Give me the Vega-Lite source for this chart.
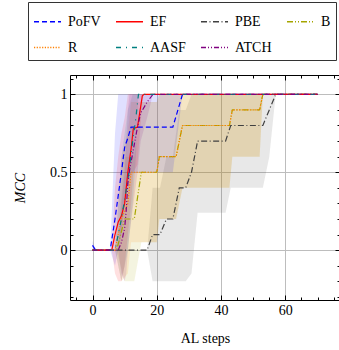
{
 "$schema": "https://vega.github.io/schema/vega-lite/v6.json",
 "width": 270, "height": 225,
 "autosize": {"type": "none"},
 "padding": {"left": 70, "top": 75, "right": 0, "bottom": 50},
 "config": {"font": "Liberation Serif", "view": {"stroke": null}},
 "data": {"values": [
  {"s":"PBE","x":0,"y":0,"lo":0,"hi":0},
  {"s":"PBE","x":17,"y":0,"lo":0,"hi":0},
  {"s":"PBE","x":18.7,"y":0.1,"lo":-0.2,"hi":0.4},
  {"s":"PBE","x":21,"y":0.1,"lo":-0.2,"hi":0.4},
  {"s":"PBE","x":23,"y":0.2,"lo":-0.2,"hi":0.6},
  {"s":"PBE","x":25,"y":0.2,"lo":-0.2,"hi":0.6},
  {"s":"PBE","x":27,"y":0.4,"lo":-0.2,"hi":0.9},
  {"s":"PBE","x":29,"y":0.4,"lo":-0.2,"hi":0.9},
  {"s":"PBE","x":30.8,"y":0.5,"lo":-0.15,"hi":1},
  {"s":"PBE","x":32.7,"y":0.7,"lo":0.24,"hi":1},
  {"s":"PBE","x":41.4,"y":0.7,"lo":0.24,"hi":1},
  {"s":"PBE","x":43,"y":0.8,"lo":0.4,"hi":1},
  {"s":"PBE","x":53,"y":0.8,"lo":0.4,"hi":1},
  {"s":"PBE","x":55,"y":0.9,"lo":0.6,"hi":1},
  {"s":"PBE","x":57,"y":1,"lo":1,"hi":1},
  {"s":"PBE","x":70,"y":1,"lo":1,"hi":1},

  {"s":"B","x":0,"y":0,"lo":0,"hi":0},
  {"s":"B","x":7.5,"y":0,"lo":0,"hi":0},
  {"s":"B","x":10,"y":0.2,"lo":-0.2,"hi":0.6},
  {"s":"B","x":13,"y":0.2,"lo":-0.2,"hi":0.6},
  {"s":"B","x":15.2,"y":0.5,"lo":0.05,"hi":0.95},
  {"s":"B","x":20,"y":0.5,"lo":0.05,"hi":0.95},
  {"s":"B","x":20.8,"y":0.6,"lo":0.2,"hi":1},
  {"s":"B","x":26,"y":0.6,"lo":0.2,"hi":1},
  {"s":"B","x":28,"y":0.8,"lo":0.4,"hi":1},
  {"s":"B","x":42.6,"y":0.8,"lo":0.4,"hi":1},
  {"s":"B","x":43.5,"y":0.9,"lo":0.6,"hi":1},
  {"s":"B","x":52,"y":0.9,"lo":0.6,"hi":1},
  {"s":"B","x":53,"y":1,"lo":1,"hi":1},
  {"s":"B","x":70,"y":1,"lo":1,"hi":1},

  {"s":"R","x":0,"y":0,"lo":0,"hi":0},
  {"s":"R","x":7,"y":0,"lo":0,"hi":0},
  {"s":"R","x":9,"y":0.2,"lo":-0.2,"hi":0.6},
  {"s":"R","x":11,"y":0.3,"lo":-0.15,"hi":0.75},
  {"s":"R","x":12,"y":0.5,"lo":0.05,"hi":0.95},
  {"s":"R","x":20,"y":0.5,"lo":0.05,"hi":0.95},
  {"s":"R","x":20.8,"y":0.6,"lo":0.2,"hi":1},
  {"s":"R","x":26,"y":0.6,"lo":0.2,"hi":1},
  {"s":"R","x":28,"y":0.8,"lo":0.4,"hi":1},
  {"s":"R","x":42.6,"y":0.8,"lo":0.4,"hi":1},
  {"s":"R","x":43.5,"y":0.9,"lo":0.6,"hi":1},
  {"s":"R","x":52,"y":0.9,"lo":0.6,"hi":1},
  {"s":"R","x":53,"y":1,"lo":1,"hi":1},
  {"s":"R","x":70,"y":1,"lo":1,"hi":1},

  {"s":"PoFV","x":0,"y":0.03,"lo":0,"hi":0.06},
  {"s":"PoFV","x":1,"y":0,"lo":0,"hi":0},
  {"s":"PoFV","x":5.5,"y":0,"lo":0,"hi":0},
  {"s":"PoFV","x":7,"y":0.2,"lo":-0.1,"hi":0.75},
  {"s":"PoFV","x":8,"y":0.35,"lo":0,"hi":1},
  {"s":"PoFV","x":9,"y":0.5,"lo":0.1,"hi":1},
  {"s":"PoFV","x":10,"y":0.66,"lo":0.3,"hi":1},
  {"s":"PoFV","x":11,"y":0.72,"lo":0.4,"hi":1},
  {"s":"PoFV","x":12,"y":0.79,"lo":0.5,"hi":1},
  {"s":"PoFV","x":25,"y":0.79,"lo":0.5,"hi":1},
  {"s":"PoFV","x":28,"y":1,"lo":1,"hi":1},
  {"s":"PoFV","x":70,"y":1,"lo":1,"hi":1},

  {"s":"EF","x":0,"y":0,"lo":0,"hi":0},
  {"s":"EF","x":6,"y":0,"lo":0,"hi":0},
  {"s":"EF","x":7,"y":0.1,"lo":-0.15,"hi":0.4},
  {"s":"EF","x":8,"y":0.18,"lo":-0.2,"hi":0.6},
  {"s":"EF","x":9,"y":0.22,"lo":-0.2,"hi":0.75},
  {"s":"EF","x":10,"y":0.3,"lo":-0.1,"hi":0.85},
  {"s":"EF","x":11,"y":0.5,"lo":0.1,"hi":1},
  {"s":"EF","x":12,"y":0.65,"lo":0.3,"hi":1},
  {"s":"EF","x":12.7,"y":0.78,"lo":0.5,"hi":1},
  {"s":"EF","x":14,"y":0.79,"lo":0.55,"hi":1},
  {"s":"EF","x":15.5,"y":0.99,"lo":0.95,"hi":1},
  {"s":"EF","x":16,"y":1,"lo":1,"hi":1},
  {"s":"EF","x":70,"y":1,"lo":1,"hi":1},

  {"s":"AASF","x":0,"y":0,"lo":0,"hi":0},
  {"s":"AASF","x":7,"y":0,"lo":0,"hi":0},
  {"s":"AASF","x":9,"y":0.2,"lo":-0.2,"hi":0.6},
  {"s":"AASF","x":11,"y":0.45,"lo":0,"hi":0.9},
  {"s":"AASF","x":12.5,"y":0.7,"lo":0.3,"hi":1},
  {"s":"AASF","x":13.5,"y":0.85,"lo":0.6,"hi":1},
  {"s":"AASF","x":14.3,"y":1,"lo":1,"hi":1},
  {"s":"AASF","x":70,"y":1,"lo":1,"hi":1},

  {"s":"ATCH","x":0,"y":0,"lo":0,"hi":0},
  {"s":"ATCH","x":8,"y":0,"lo":0,"hi":0},
  {"s":"ATCH","x":9,"y":0.05,"lo":-0.15,"hi":0.3},
  {"s":"ATCH","x":10,"y":0.14,"lo":-0.2,"hi":0.5},
  {"s":"ATCH","x":10.5,"y":0.26,"lo":-0.15,"hi":0.7},
  {"s":"ATCH","x":11,"y":0.43,"lo":0,"hi":0.9},
  {"s":"ATCH","x":11.5,"y":0.51,"lo":0.1,"hi":1},
  {"s":"ATCH","x":14,"y":0.79,"lo":0.5,"hi":1},
  {"s":"ATCH","x":15,"y":0.88,"lo":0.7,"hi":1},
  {"s":"ATCH","x":17,"y":0.95,"lo":0.85,"hi":1},
  {"s":"ATCH","x":18.8,"y":1,"lo":1,"hi":1},
  {"s":"ATCH","x":70,"y":1,"lo":1,"hi":1}
 ]},
 "layer": [
  {
   "mark": {"type": "area", "opacity": 0.12},
   "encoding": {
    "x": {"field": "x", "type": "quantitative",
      "scale": {"domain": [-7, 77], "nice": false, "zero": false},
      "axis": {"orient": "bottom", "values": [-5,0,5,10,15,20,25,30,35,40,45,50,55,60,65,70,75],
        "format": "d", "labelExpr": "datum.value % 20 === 0 ? datum.label : ''",
        "tickSize": {"condition": {"test": "datum.value % 20 === 0", "value": -5}, "value": -3},
        "grid": true, "gridOpacity": {"condition": {"test": "datum.value % 20 === 0", "value": 1}, "value": 0},
        "gridColor": "#bdbdbd", "gridWidth": 1,
        "domainColor": "#000", "tickColor": "#000", "labelColor": "#000",
        "labelFontSize": 14, "labelFont": "Liberation Serif", "labelPadding": 8,
        "title": "AL steps", "titleFont": "Liberation Serif", "titleFontSize": 14, "titleFontWeight": "normal", "titleColor": "#000", "titlePadding": 14}},
    "y": {"field": "lo", "type": "quantitative",
      "scale": {"domain": [-0.32, 1.124], "nice": false, "zero": false},
      "axis": {"orient": "left", "values": [-0.3,-0.2,-0.1,0,0.1,0.2,0.3,0.4,0.5,0.6,0.7,0.8,0.9,1,1.1],
        "format": "~g", "labelExpr": "abs(datum.value*2 - round(datum.value*2)) < 0.001 ? datum.label : ''",
        "tickSize": {"condition": {"test": "abs(datum.value*2 - round(datum.value*2)) < 0.001", "value": -5}, "value": -3},
        "grid": true, "gridOpacity": {"condition": {"test": "abs(datum.value*2 - round(datum.value*2)) < 0.001", "value": 1}, "value": 0},
        "gridColor": "#bdbdbd", "gridWidth": 1,
        "domainColor": "#000", "tickColor": "#000", "labelColor": "#000",
        "labelFontSize": 14, "labelFont": "Liberation Serif", "labelPadding": 8,
        "title": "MCC", "titleFont": "Liberation Serif", "titleFontSize": 14, "titleFontWeight": "normal", "titleFontStyle": "italic", "titleColor": "#000", "titlePadding": 22}},
    "y2": {"field": "hi"},
    "fill": {"field": "s", "type": "nominal",
      "scale": {"domain": ["ATCH","AASF","R","B","PBE","EF","PoFV"], "range": ["#800080","#008080","#ff8000","#a5a500","#404040","#ff0000","#0000ff"]},
      "legend": null}
   }
  },
  {
   "mark": {"type": "line", "strokeWidth": 1.2},
   "encoding": {
    "x": {"field": "x", "type": "quantitative",
      "scale": {"domain": [-7, 77], "nice": false, "zero": false},
      "axis": {"orient": "top", "values": [-5,0,5,10,15,20,25,30,35,40,45,50,55,60,65,70,75],
        "labels": false, "title": null, "grid": false,
        "tickSize": {"condition": {"test": "datum.value % 20 === 0", "value": -5}, "value": -3},
        "domainColor": "#000", "tickColor": "#000"}},
    "y": {"field": "y", "type": "quantitative",
      "scale": {"domain": [-0.32, 1.124], "nice": false, "zero": false},
      "axis": {"orient": "right", "values": [-0.3,-0.2,-0.1,0,0.1,0.2,0.3,0.4,0.5,0.6,0.7,0.8,0.9,1,1.1],
        "labels": false, "title": null, "grid": false,
        "tickSize": {"condition": {"test": "abs(datum.value*2 - round(datum.value*2)) < 0.001", "value": -5}, "value": -3},
        "domainColor": "#000", "tickColor": "#000"}},
    "color": {"field": "s", "type": "nominal",
      "scale": {"domain": ["PoFV","EF","PBE","B","R","AASF","ATCH"], "range": ["#0000ff","#ff0000","#404040","#a5a500","#ff8000","#008080","#800080"]},
      "legend": {"orient": "none", "legendX": -42, "legendY": -73, "direction": "horizontal", "columns": 4,
        "title": null, "symbolType": "stroke", "symbolSize": 729, "symbolStrokeWidth": 1.3,
        "labelFont": "Liberation Serif", "labelFontSize": 14, "labelColor": "#000", "labelOffset": 6,
        "strokeColor": "#333", "fillColor": "#fff", "padding": 5, "columnPadding": 12, "rowPadding": 4}},
    "strokeDash": {"field": "s", "type": "nominal",
      "scale": {"domain": ["PoFV","EF","PBE","B","R","AASF","ATCH"],
        "range": [[5,3],[1,0],[6,2.5,1,2.5],[6,2,1,2,1,2],[1.2,1.5],[5,5,1,5],[5,2,1,2,1,2]]},
      "legend": {"orient": "none", "legendX": -42, "legendY": -73, "direction": "horizontal", "columns": 4,
        "title": null, "symbolType": "stroke", "symbolSize": 729, "symbolStrokeWidth": 1.3,
        "labelFont": "Liberation Serif", "labelFontSize": 14, "labelColor": "#000", "labelOffset": 6,
        "strokeColor": "#333", "fillColor": "#fff", "padding": 5, "columnPadding": 12, "rowPadding": 4}}
   }
  }
 ],
 "resolve": {"axis": {"x": "independent", "y": "independent"}}
}
